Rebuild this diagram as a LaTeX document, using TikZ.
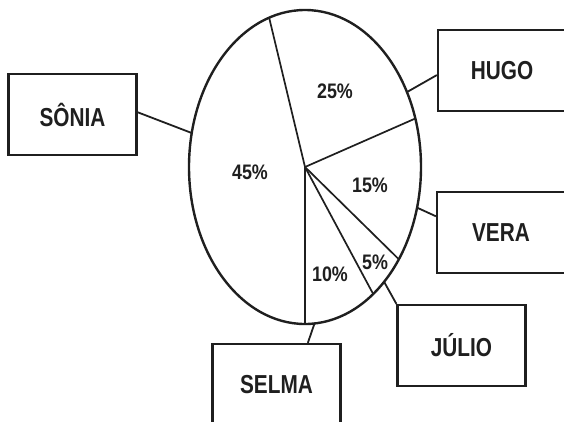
\documentclass[tikz,border=0pt]{standalone}
\usepackage{fontspec}
\newfontfamily\namefont{Liberation Sans}[FakeStretch=0.8]
\newfontfamily\pctfont{Liberation Sans}[FakeStretch=0.85]
\usetikzlibrary{calc}
\definecolor{ink}{gray}{0.12}
\begin{document}
\begin{tikzpicture}[x=1pt,y=-1pt,
  namebox/.style={draw=ink, line width=2.2pt, minimum width=128pt, minimum height=81pt, inner sep=0pt, text=ink, font=\namefont\bfseries\fontsize{26}{26}\selectfont},
  pct/.style={font=\pctfont\bfseries\fontsize{21}{21}\selectfont, inner sep=0pt, text=ink},
  link/.style={draw=ink, line width=1.8pt},
  slice/.style={draw=ink, line width=1.7pt},
  rim/.style={draw=ink, line width=2.4pt}]
\useasboundingbox (0,0) rectangle (564,421);
\clip (0,0) rectangle (564,421);

% pie
\coordinate (c) at (305,167);
\draw[rim] (c) ellipse [x radius=116, y radius=157];
\foreach \a/\n in {-108/s1, -18/s2, 36/s3, 54/s4, 90/s5}
  \coordinate (\n) at ($(c)+(\a:116 and 157)$);
\foreach \n in {s1,s2,s3,s4,s5}
  \draw[slice] (c) -- (\n);

% percent labels
\node[pct] (l25) at (335,91) {25\%};
\node[pct] (l45) at (250,172) {45\%};
\node[pct] (l15) at (370,185) {15\%};
\node[pct] (l10) at (330,274) {10\%};
\node[pct] (l5) at (375,262) {5\%};

% name boxes
\node[namebox] (sonia) at (72.5,114.5) {SÔNIA};
\node[namebox] (hugo) at (502,70.5) {HUGO};
\node[namebox] (vera) at (501,232.5) {VERA};
\node[namebox] (julio) at (461.5,345.5) {JÚLIO};
\node[namebox] (selma) at (276.5,384.5) {SELMA};

% connector ends on the rim
\coordinate (eS) at ($(c)+(-167.5:116 and 157)$);
\coordinate (eH) at ($(c)+(-28.5:116 and 157)$);
\coordinate (eV) at ($(c)+(15:116 and 157)$);
\coordinate (eJ) at ($(c)+(47:116 and 157)$);
\coordinate (eM) at ($(c)+(85.3:116 and 157)$);

\draw[link] (eS) -- (sonia.2);
\draw[link] (eH) -- (hugo.184);
\draw[link] (eV) -- (vera.166);
\draw[link] (eJ) -- (julio.north west);
\draw[link] (eM) -- (selma.53);
\end{tikzpicture}
\end{document}
